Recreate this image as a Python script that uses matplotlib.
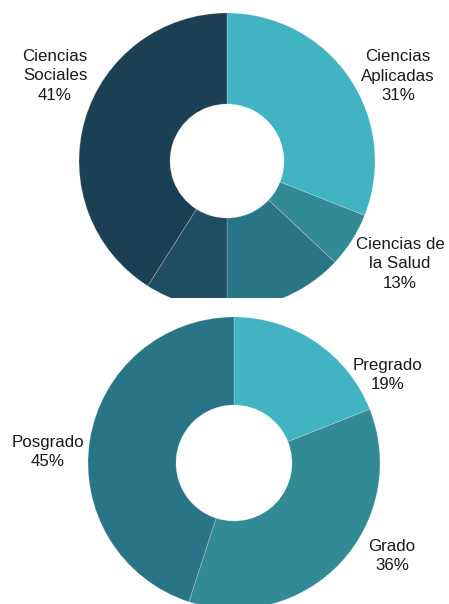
import matplotlib.pyplot as plt

plt.rcParams['font.family'] = ['Liberation Sans', 'DejaVu Sans']

# Top donut: areas of knowledge
areas = ['Ciencias Aplicadas', 'Otro 1', 'Ciencias de la Salud', 'Otro 2', 'Ciencias Sociales']
areas_pct = [31, 6, 13, 9, 41]
areas_colors = ['#42b3c2', '#318a94', '#2a7587', '#1f4d62', '#1c4053']
areas_labels = ['Ciencias\nAplicadas\n31%', '', 'Ciencias de\nla Salud\n13%', '', 'Ciencias\nSociales\n41%']

# Bottom donut: academic level
niveles = ['Pregrado', 'Grado', 'Posgrado']
niveles_pct = [19, 36, 45]
niveles_colors = ['#42b3c2', '#318a94', '#297587']

W, H = 449, 604
fig = plt.figure(figsize=(W / 100, H / 100), dpi=100)

# axes in pixel-like units (y up)
ax1 = fig.add_axes([0, 306 / H, 1, 298 / H])
ax2 = fig.add_axes([0, 0, 1, 306 / H])

w1, _ = ax1.pie(areas_pct, colors=areas_colors, startangle=90, counterclock=False,
                center=(227, 443), radius=148,
                wedgeprops=dict(width=91, edgecolor=(1, 1, 1, 0.25), linewidth=0.6))
ax1.set_xlim(0, W)
ax1.set_ylim(306, H)
ax1.set_aspect('auto')
ax1.axis('off')
for w in w1:
    w.set_clip_on(True)

w2, _ = ax2.pie(niveles_pct, colors=niveles_colors, startangle=90, counterclock=False,
                center=(234, 141), radius=146,
                wedgeprops=dict(width=88, edgecolor=(1, 1, 1, 0.25), linewidth=0.6))
ax2.set_xlim(0, W)
ax2.set_ylim(0, 306)
ax2.set_aspect('auto')
ax2.axis('off')
for w in w2:
    w.set_clip_on(True)

txt = dict(ha='center', va='center', fontsize=12.2, color='#1a1a1a', linespacing=1.35)

# label positions (pixels from top-left)
top_pos = [(398, 76), None, (400, 264), None, (55, 76)]
for lab, pos in zip(areas_labels, top_pos):
    if pos:
        fig.text(pos[0] / W, 1 - pos[1] / H, lab, **txt)

bottom_pos = [(388, 375), (392, 556), (48, 452)]
for name, pct, pos in zip(niveles, niveles_pct, bottom_pos):
    fig.text(pos[0] / W, 1 - pos[1] / H, f'{name}\n{pct}%', **txt)

fig.savefig('out.png', dpi=100)
